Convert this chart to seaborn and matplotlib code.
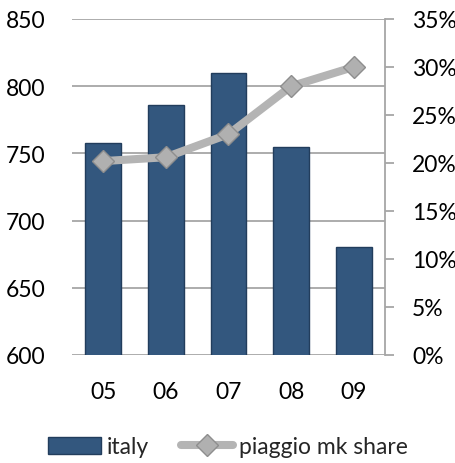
import matplotlib
matplotlib.use("Agg")
import matplotlib.pyplot as plt
from matplotlib.lines import Line2D
from matplotlib.patches import Patch
import seaborn as sns
import pandas as pd

years = ["05", "06", "07", "08", "09"]
italy = [758, 786, 810, 755, 680]
share = [20.2, 20.6, 23.0, 28.0, 30.0]
left_ticks = [600, 650, 700, 750, 800, 850]
right_ticks = [0, 5, 10, 15, 20, 25, 30, 35]

sns.set_theme(style="white")
plt.rcParams["font.family"] = ["Lato", "DejaVu Sans"]

bar_color = "#33577E"
bar_edge = "#223D5C"
line_color = "#B4B4B4"
marker_face = "#B0B0B0"
marker_edge = "#8E8E8E"
grid_color = "#A6A6A6"
fs = 16.5

df = pd.DataFrame({"year": years, "italy": italy, "share": share})

fig = plt.figure(figsize=(4.56, 4.64), dpi=100)
ax = fig.add_axes([72 / 456, 1 - 356 / 464, (385 - 72) / 456, (356 - 20) / 464])

sns.barplot(data=df, x="year", y="italy", color=bar_color, width=0.57,
            saturation=1, edgecolor=bar_edge, linewidth=1.0, ax=ax, zorder=2)
ax.set_ylim(600, 850)
ax.set_yticks(left_ticks)
ax.yaxis.grid(True, color=grid_color, linewidth=1.3, zorder=0)
ax.set_axisbelow(True)
for s in ["left", "top", "bottom", "right"]:
    ax.spines[s].set_visible(False)
ax.set_xlabel("")
ax.set_ylabel("")
ax.tick_params(axis="y", length=0, pad=19, labelsize=fs, colors="black")
ax.tick_params(axis="x", length=0, pad=19, labelsize=fs, colors="black")

ax2 = ax.twinx()
sns.pointplot(data=df, x="year", y="share", color=line_color, markers="D",
              markersize=11, linewidth=5.8, ax=ax2, zorder=3)
for ln in ax2.lines:
    ln.set_markerfacecolor(marker_face)
    ln.set_markeredgecolor(marker_edge)
    ln.set_markeredgewidth(1.0)
ax2.set_ylim(0, 35)
ax2.set_yticks(right_ticks)
ax2.set_yticklabels([f"{t}%" for t in right_ticks])
ax2.set_xlim(-0.5, 4.5)
ax.set_xlim(-0.5, 4.5)
for s in ["left", "top", "bottom"]:
    ax2.spines[s].set_visible(False)
ax2.spines["right"].set_color(grid_color)
ax2.spines["right"].set_linewidth(1.3)
ax2.tick_params(axis="y", length=6.5, width=1.3, pad=13,
                labelsize=fs, colors="black")
ax2.tick_params(axis="y", color=grid_color)
ax2.set_xlabel("")
ax2.set_ylabel("")

handles = [
    Patch(facecolor=bar_color, edgecolor=bar_edge, label="italy"),
    Line2D([0], [0], color=line_color, linewidth=5.8, marker="D", markersize=11,
           markerfacecolor=marker_face, markeredgecolor=marker_edge,
           label="piaggio mk share"),
]
fig.legend(handles=handles, loc="center", bbox_to_anchor=(0.5, 1 - 448 / 464),
           ncol=2, frameon=False, fontsize=fs, handlelength=2.3,
           handleheight=0.8, handletextpad=0.25, columnspacing=1.4,
           borderpad=0)

fig.savefig("out.png", dpi=100)
